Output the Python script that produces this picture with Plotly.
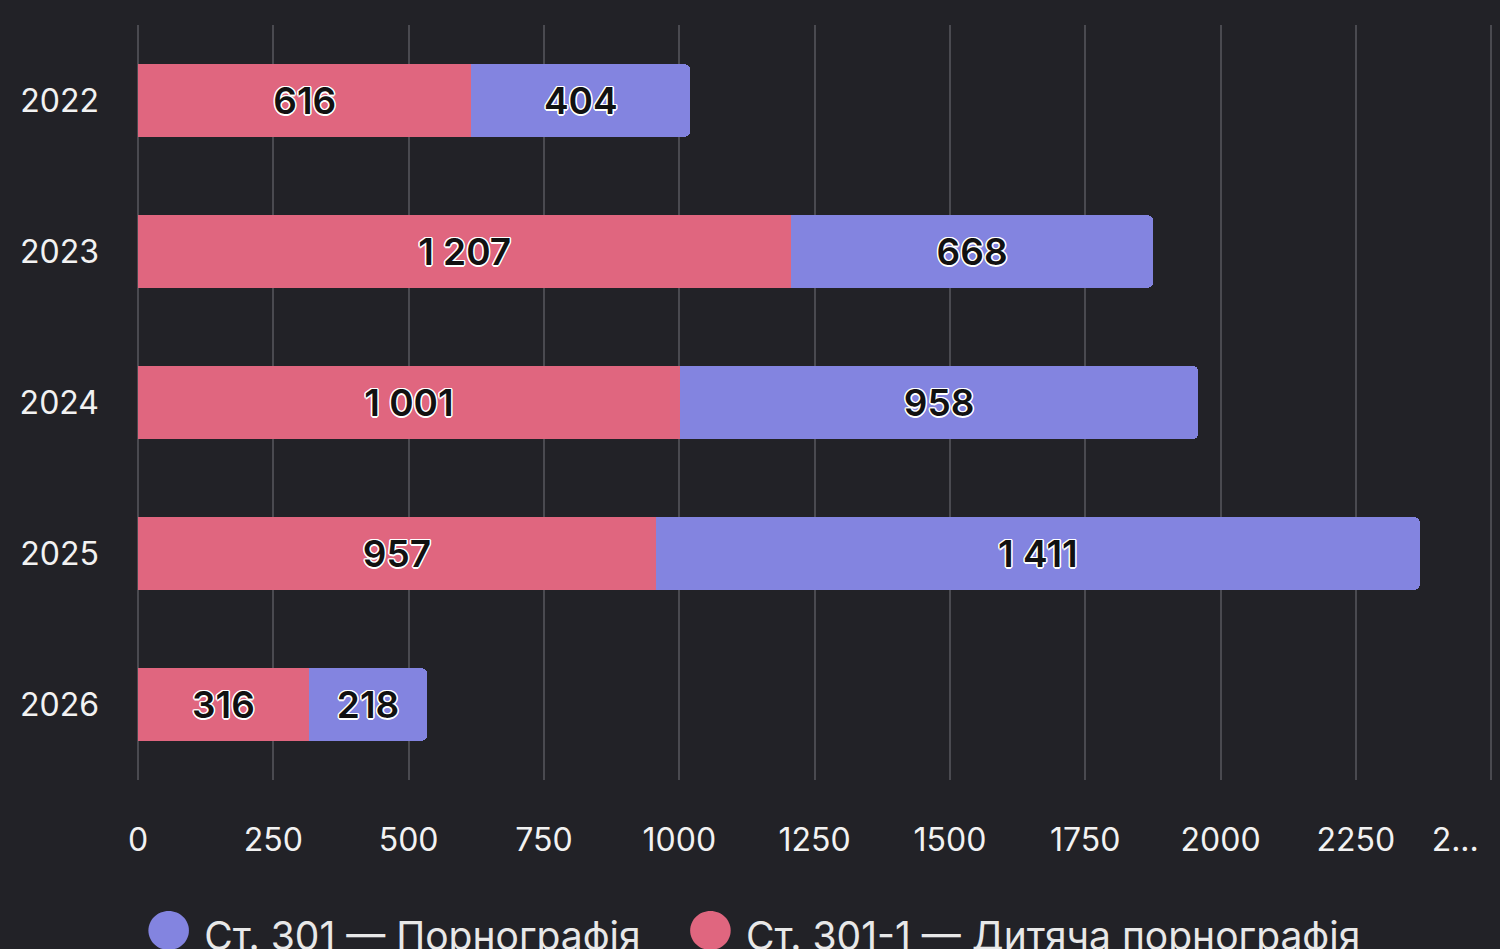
import plotly.graph_objects as go

years = ["2022", "2023", "2024", "2025", "2026"]
art_301_1 = [616, 1207, 1001, 957, 316]   # Ст. 301-1 — Дитяча порнографія (red)
art_301 = [404, 668, 958, 1411, 218]      # Ст. 301 — Порнографія (purple)
name_301 = "Ст. 301 — Порнографія"
name_301_1 = "Ст. 301-1 — Дитяча порнографія"
tick_vals = [0, 250, 500, 750, 1000, 1250, 1500, 1750, 2000, 2250, 2500]
tick_text = ["0", "250", "500", "750", "1000", "1250", "1500", "1750", "2000", "2250",
             "2..." + "\u00a0" * 8]

RED = "#e0667f"
PURPLE = "#8384e0"
BG = "#222227"


def fmt(v):
    return f"{v:,}".replace(",", " ")


shadow = ("1.5px 0 0 #fff, -1.5px 0 0 #fff, 0 1.5px 0 #fff, 0 -1.5px 0 #fff, "
          "1px 1px 0 #fff, -1px -1px 0 #fff, 1px -1px 0 #fff, -1px 1px 0 #fff")
label_font = dict(family="Inter, sans-serif", size=37, color="#111111", weight=600, shadow=shadow)

fig = go.Figure()
fig.add_trace(go.Bar(
    y=years, x=art_301_1, orientation="h", name=name_301_1,
    marker=dict(color=RED, line=dict(width=0)),
    text=[fmt(v) for v in art_301_1], textposition="inside",
    insidetextanchor="middle", textangle=0, textfont=label_font,
    showlegend=False, hoverinfo="skip",
))
fig.add_trace(go.Bar(
    y=years, x=art_301, orientation="h", name=name_301,
    marker=dict(color=PURPLE, line=dict(width=0)),
    text=[fmt(v) for v in art_301], textposition="inside",
    insidetextanchor="middle", textangle=0, textfont=label_font,
    showlegend=False, hoverinfo="skip",
))

# legend entries with round markers
for nm, col in [(name_301, PURPLE), (name_301_1, RED)]:
    fig.add_trace(go.Bar(
        y=[None], x=[None], orientation="h",
        name=f"<span style='color:{col};font-size:54px'>●</span> {nm}",
        marker=dict(color="rgba(0,0,0,0)", line=dict(width=0)),
        showlegend=True, hoverinfo="skip",
    ))

fig.update_layout(
    width=1500, height=949,
    barmode="stack", bargap=0.52, barcornerradius=5,
    paper_bgcolor=BG, plot_bgcolor=BG,
    margin=dict(l=135, r=5, t=25, b=169, autoexpand=False),
    font=dict(family="Inter, sans-serif", color="#f2f2f2"),
    legend=dict(
        orientation="h", xref="container", x=0.49, xanchor="center",
        yref="container", y=0.015, yanchor="middle",
        font=dict(size=39, color="#e8e8e8"), itemwidth=30,
        traceorder="normal", bgcolor="rgba(0,0,0,0)",
    ),
    xaxis=dict(
        range=[-5.5, 2507], tickvals=tick_vals, ticktext=tick_text,
        showgrid=True, gridcolor="#4a4a50", gridwidth=2,
        zeroline=False, showline=False, automargin=False,
        tickfont=dict(size=32, color="#f2f2f2"), ticklabelstandoff=38,
        ticklabeloverflow="allow",
        fixedrange=True,
    ),
    yaxis=dict(
        categoryorder="array", categoryarray=years[::-1],
        showgrid=False, zeroline=False, showline=False, automargin=False,
        tickfont=dict(size=32, color="#f2f2f2"), ticklabelstandoff=35,
        fixedrange=True,
    ),
)

fig.write_html("out.html")
